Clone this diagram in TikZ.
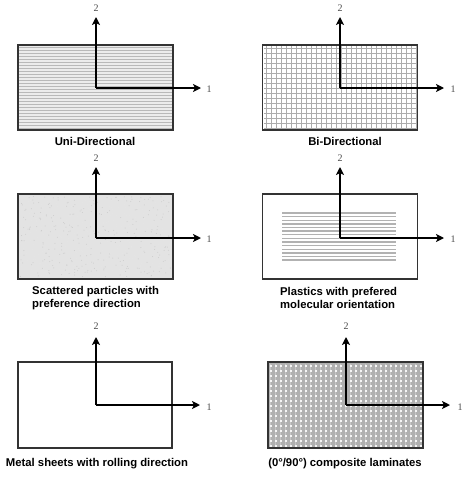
\documentclass[tikz,border=0pt]{standalone}
\usepackage{fontspec}
\setmainfont{Liberation Sans}
\newfontfamily\numfont{Liberation Serif}
\usetikzlibrary{arrows.meta}
\begin{document}
\begin{tikzpicture}[x=1pt,y=-1pt,
  box/.style={draw=black!80, line width=1.5pt, minimum width=155pt, minimum height=85pt, inner sep=0pt, outer sep=0pt},
  axisarrow/.style={line width=2pt, -{Stealth[length=8pt,width=8pt,inset=2pt]}},
  numlabel/.style={font=\numfont\fontsize{10}{11}\selectfont, text=black!70, inner sep=0pt},
  captext/.style={font=\bfseries\fontsize{11.3}{13.5}\selectfont, inner sep=0pt},
  hatchline/.style={gray!55, line width=1pt},
  gridline/.style={gray!65, line width=0.8pt}]
\useasboundingbox (0,0) rectangle (465,482);
\fill[white] (0,0) rectangle (465,482);

% Panel 1: uni-directional
\node[box, fill=gray!15] (r1) at (95.5,87.5) {};
\foreach \y in {47.5,50.5,...,128.5} \draw[hatchline] (19,\y) -- (172,\y);
\draw[black!80, line width=1.5pt] (r1.north west) rectangle (r1.south east);
\coordinate (o1) at (96,88);
\coordinate (u1) at (96,17);
\coordinate (e1) at (201,88);
\draw[axisarrow] (o1) -- (u1);
\draw[axisarrow] (o1) -- (e1);
\node[numlabel] (n21) at (96,8) {2};
\node[numlabel] (n11) at (209,89) {1};
\node[captext] (c1) at (95,141) {Uni-Directional};

% Panel 2: bi-directional
\node[box, fill=white] (r2) at (340,87.5) {};
\foreach \x in {266,271,...,416} \draw[gridline] (\x,46) -- (\x,129);
\foreach \y in {48,53,...,128} \draw[gridline] (264,\y) -- (416,\y);
\draw[black!80, line width=1.5pt] (r2.north west) rectangle (r2.south east);
\coordinate (o2) at (340,88);
\coordinate (u2) at (340,17);
\coordinate (e2) at (444,88);
\draw[axisarrow] (o2) -- (u2);
\draw[axisarrow] (o2) -- (e2);
\node[numlabel] (n22) at (340,8) {2};
\node[numlabel] (n12) at (453,89) {1};
\node[captext] (c2) at (345,141) {Bi-Directional};

% Panel 3: scattered particles
\node[box, fill=gray!22] (r3) at (95.5,236.5) {};
\pgfmathsetseed{7}
\foreach \i in {1,...,500} \fill[white!80!gray] ({20+151*rnd},{196+81*rnd}) circle (0.6);
\foreach \i in {1,...,300} \fill[gray!40] ({20+151*rnd},{196+81*rnd}) circle (0.5);
\draw[black!80, line width=1.5pt] (r3.north west) rectangle (r3.south east);
\coordinate (o3) at (96,238);
\coordinate (u3) at (96,167);
\coordinate (e3) at (201,238);
\draw[axisarrow] (o3) -- (u3);
\draw[axisarrow] (o3) -- (e3);
\node[numlabel] (n23) at (96,158) {2};
\node[numlabel] (n13) at (209,239) {1};
\node[captext, align=left, anchor=north west] (c3) at (32,286) {Scattered particles with\\preference direction};

% Panel 4: plastics
\node[box, fill=white] (r4) at (340,236.5) {};
\foreach \i in {0,...,13} \draw[gray!60, line width=1.4pt] (282,{213+\i*3.62}) -- (396,{213+\i*3.62});
\coordinate (o4) at (340,238);
\coordinate (u4) at (340,167);
\coordinate (e4) at (444,238);
\draw[axisarrow] (o4) -- (u4);
\draw[axisarrow] (o4) -- (e4);
\node[numlabel] (n24) at (340,158) {2};
\node[numlabel] (n14) at (453,239) {1};
\node[captext, align=left, anchor=north west] (c4) at (280,287) {Plastics with prefered\\molecular orientation};

% Panel 5: metal sheets
\node[box, fill=white, minimum width=154pt, minimum height=86pt] (r5) at (95,405) {};
\coordinate (o5) at (96,405);
\coordinate (u5) at (96,337);
\coordinate (e5) at (200,405);
\draw[axisarrow] (o5) -- (u5);
\draw[axisarrow] (o5) -- (e5);
\node[numlabel] (n25) at (96,326) {2};
\node[numlabel] (n15) at (209,407) {1};
\node[captext] (c5) at (97,464) {Metal sheets with rolling direction};

% Panel 6: composite laminates
\node[box, fill=gray!62, minimum height=86pt] (r6) at (345.5,405) {};
\foreach \x in {270.5,275.5,...,420} \draw[gray!45, line width=0.8pt] (\x,363.5) -- (\x,446.5);
\foreach \x in {270,275,...,420} \foreach \y in {365,370,...,445} \fill[white!92!gray] (\x,\y) rectangle +(1.8,1.8);
\draw[black!80, line width=1.5pt] (r6.north west) rectangle (r6.south east);
\coordinate (o6) at (346,405);
\coordinate (u6) at (346,337);
\coordinate (e6) at (450,405);
\draw[axisarrow] (o6) -- (u6);
\draw[axisarrow] (o6) -- (e6);
\node[numlabel] (n26) at (346,326) {2};
\node[numlabel] (n16) at (460,407) {1};
\node[captext] (c6) at (345,464) {(0°/90°) composite laminates};
\end{tikzpicture}
\end{document}
